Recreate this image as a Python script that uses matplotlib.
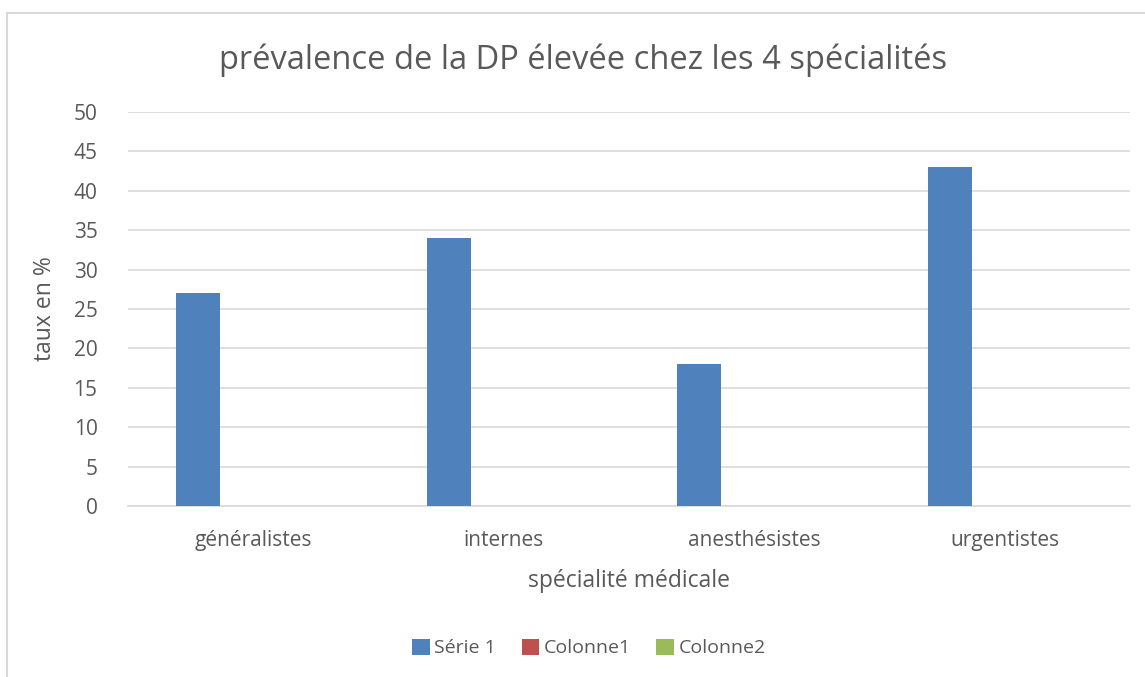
import matplotlib
matplotlib.use("Agg")
import matplotlib.pyplot as plt
import numpy as np
from matplotlib.patches import Rectangle

# Chart data
categories = ["généralistes", "internes", "anesthésistes", "urgentistes"]
serie1 = [27, 34, 18, 43]
colonne1 = [0, 0, 0, 0]
colonne2 = [0, 0, 0, 0]
series_names = ["Série 1", "Colonne1", "Colonne2"]
series_colors = ["#4F81BD", "#C0504D", "#9BBB59"]

TEXT = "#595959"
GRID = "#D9D9D9"

plt.rcParams['font.family'] = ['Open Sans', 'DejaVu Sans']

fig = plt.figure(figsize=(11.45, 6.77), dpi=100)
W, H = 1145, 677
ax = fig.add_axes([128 / W, 1 - 506 / H, (1130 - 128) / W, (506 - 112) / H])

x = np.arange(len(categories))
offsets = [-0.22, 0.0, 0.22]
width = 0.176
for vals, name, col, off in zip([serie1, colonne1, colonne2], series_names,
                                series_colors, offsets):
    ax.bar(x + off, vals, width, color=col, label=name, zorder=3)

ax.set_xlim(-0.5, len(categories) - 0.5)
ax.set_ylim(0, 50)
ax.set_yticks(range(0, 51, 5))
ax.yaxis.grid(True, color=GRID, linewidth=1.2, zorder=0)
ax.set_axisbelow(True)
for s in ["top", "right", "left"]:
    ax.spines[s].set_visible(False)
ax.spines["bottom"].set_color(GRID)
ax.spines["bottom"].set_linewidth(1.2)
ax.tick_params(axis="both", length=0, colors=TEXT, labelsize=15)
ax.tick_params(axis="y", pad=22)
ax.tick_params(axis="x", pad=17)
ax.set_xticks(x)
ax.set_xticklabels(categories)

ax.set_xlabel("spécialité médicale", color=TEXT, fontsize=16.5, labelpad=13)
ax.set_ylabel("taux en %", color=TEXT, fontsize=16.5, labelpad=12)
fig.text(583 / W, 1 - 60 / H, "prévalence de la DP élevée chez les 4 spécialités",
         ha="center", va="center", color=TEXT, fontsize=23.5)

leg = fig.legend(loc="center", bbox_to_anchor=(589 / W, 1 - 648 / H), ncol=3,
                 frameon=False, fontsize=14, handlelength=0.9,
                 handleheight=0.9, handletextpad=0.25, columnspacing=1.3)
for t in leg.get_texts():
    t.set_color(TEXT)

# chart area border
fig.patches.append(Rectangle((7 / W, -0.01), 1.02, 1 - 13 / H + 0.01,
                             transform=fig.transFigure, fill=False,
                             edgecolor=GRID, linewidth=1.5))

fig.savefig("out.png", dpi=100)
